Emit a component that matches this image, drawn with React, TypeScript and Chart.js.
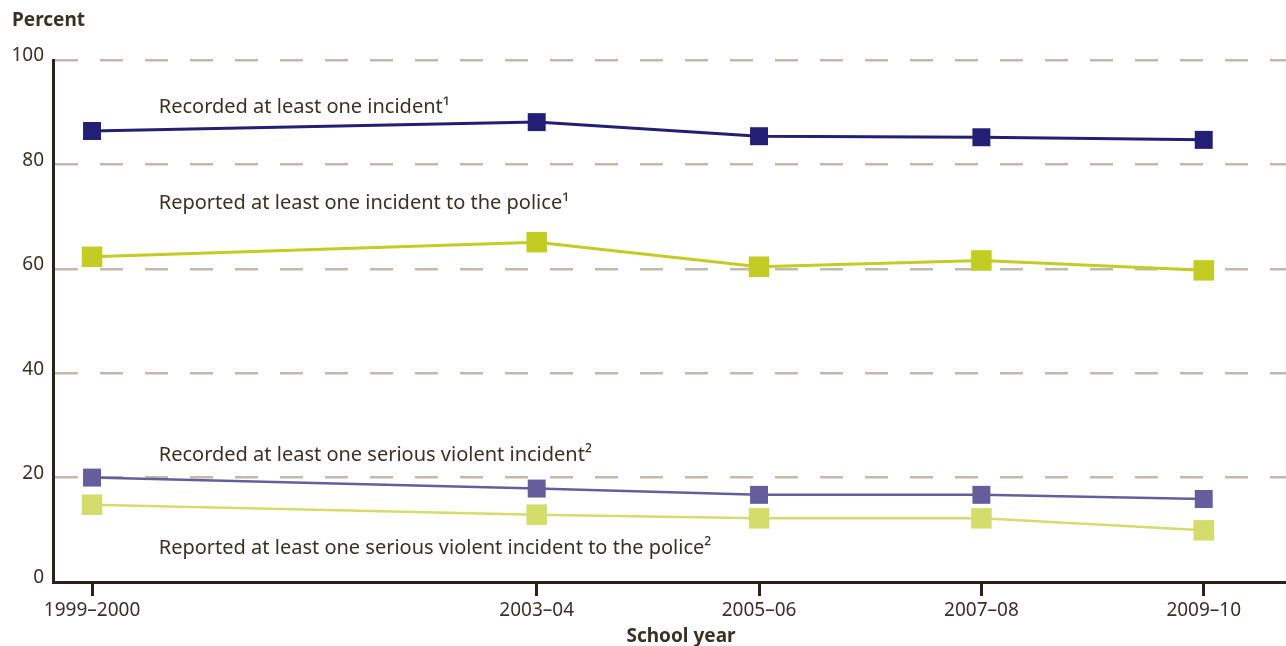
import { useEffect, useRef } from "react";
import { Chart, registerables } from "chart.js";

Chart.register(...registerables);

// ---- data ----
const years = [1999, 2003, 2005, 2007, 2009];
const yearLabels = ["1999–2000", "2003–04", "2005–06", "2007–08", "2009–10"];
const recordedAny = [86.4, 88.1, 85.4, 85.2, 84.7];
const reportedAny = [62.3, 65.1, 60.4, 61.6, 59.7];
const recordedSerious = [20.0, 17.9, 16.7, 16.7, 15.9];
const reportedSerious = [14.8, 12.9, 12.2, 12.2, 9.9];
const seriesNames = [
  "Recorded at least one incident¹",
  "Reported at least one incident to the police¹",
  "Recorded at least one serious violent incident²",
  "Reported at least one serious violent incident to the police²",
];
// label anchor (x in year units, y in percent units)
const labelYears = [1999.6, 1999.6, 1999.6, 1999.6];
const labelValues = [89.8, 71.5, 23.2, 5.4];
const yAxisTitle = "Percent";
const xAxisTitle = "School year";

const TEXT = "#3a3124";
const AXIS = "#2b2318";
const GRID = "#c2b9ab";
const FONT = '"Noto Sans", sans-serif';

const textPlugin = {
  id: "texts",
  afterDraw(chart: any) {
    const { ctx, scales } = chart;
    const x = scales.x;
    const y = scales.y;
    ctx.save();
    ctx.fillStyle = TEXT;
    ctx.textBaseline = "alphabetic";
    ctx.textAlign = "left";
    ctx.font = `20px ${FONT}`;
    seriesNames.forEach((t, i) => {
      ctx.fillText(t, x.getPixelForValue(labelYears[i]), y.getPixelForValue(labelValues[i]));
    });
    ctx.font = `bold 19px ${FONT}`;
    ctx.fillText(yAxisTitle, 12, 26);
    ctx.textAlign = "center";
    ctx.fillText(xAxisTitle, 681, 642);
    ctx.restore();
  },
};

export default function App() {
  const ref = useRef<HTMLCanvasElement>(null);
  useEffect(() => {
    document.body.style.margin = "0";
    const canvas = ref.current!;
    const mk = (label: string, data: number[], color: string, r: number, w: number) => ({
      label,
      data: years.map((yr, i) => ({ x: yr, y: data[i] })),
      borderColor: color,
      backgroundColor: color,
      borderWidth: w,
      pointStyle: "rect",
      pointRadius: r,
      pointBorderWidth: 0,
      pointBackgroundColor: color,
      tension: 0,
      clip: false,
    });
    const chart = new Chart(canvas, {
      type: "line",
      data: {
        datasets: [
          mk(seriesNames[3], reportedSerious, "#d4dc6c", 14.5, 2.5),
          mk(seriesNames[2], recordedSerious, "#655e9c", 12.7, 2.5),
          mk(seriesNames[1], reportedAny, "#c2cc22", 14.5, 3),
          mk(seriesNames[0], recordedAny, "#231f74", 12.7, 3),
        ],
      },
      options: {
        animation: false,
        responsive: false,
        layout: { autoPadding: false, padding: { top: 60, left: 0, right: 0, bottom: 0 } },
        plugins: { legend: { display: false }, tooltip: { enabled: false }, title: { display: false } },
        scales: {
          x: {
            type: "linear",
            min: 1998.649,
            max: 2009.74,
            afterBuildTicks: (s: any) => {
              s.ticks = years.map((v) => ({ value: v }));
            },
            afterFit: (s: any) => {
              s.height = 64;
            },
            ticks: {
              autoSkip: false,
              maxRotation: 0,
              padding: 3,
              color: TEXT,
              font: { family: FONT, size: 19 },
              callback: (v: any) => {
                const i = years.indexOf(Number(v));
                return i >= 0 ? yearLabels[i] : "";
              },
            },
            grid: {
              drawOnChartArea: false,
              drawTicks: true,
              tickLength: 14,
              lineWidth: 3,
              color: AXIS,
              tickColor: AXIS,
            },
            border: { display: true, color: AXIS, width: 3 },
          },
          y: {
            min: 0,
            max: 100,
            afterFit: (s: any) => {
              s.width = 53;
            },
            ticks: {
              stepSize: 20,
              padding: 9,
              labelOffset: -4,
              color: TEXT,
              font: { family: FONT, size: 19 },
            },
            grid: {
              drawTicks: false,
              color: GRID,
              lineWidth: 2.5,
            },
            border: { display: true, color: AXIS, width: 3, dash: [23, 22] },
          },
        },
      },
      plugins: [textPlugin],
    } as any);
    return () => chart.destroy();
  }, []);
  return (
    <div style={{ width: 1286, height: 646 }}>
      <canvas ref={ref} width={1286} height={646} />
    </div>
  );
}
